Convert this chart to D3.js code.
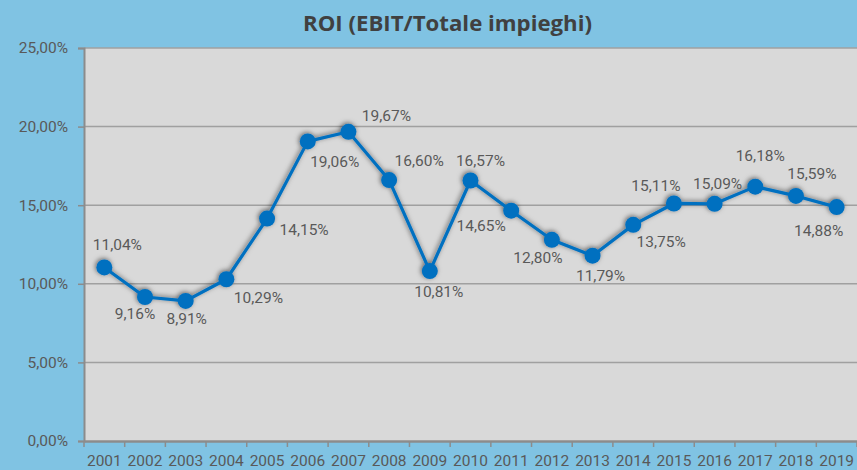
<!DOCTYPE html>
<html>
<head>
<meta charset="utf-8">
<script src="https://cdn.jsdelivr.net/npm/d3@7"></script>
<style>
  html, body { margin: 0; padding: 0; background: #80c3e3; }
  svg { display: block; }
  .tick text { font-family: Roboto, "Noto Sans", sans-serif; }
</style>
</head>
<body>
<svg id="chart" width="857" height="470"></svg>
<script>
// Chart data
const years = ['2001', '2002', '2003', '2004', '2005', '2006', '2007', '2008', '2009', '2010',
  '2011', '2012', '2013', '2014', '2015', '2016', '2017', '2018', '2019'];
const roi = [11.04, 9.16, 8.91, 10.29, 14.15, 19.06, 19.67, 16.60, 10.81, 16.57,
  14.65, 12.80, 11.79, 13.75, 15.11, 15.09, 16.18, 15.59, 14.88];
const yTicks = [0, 5, 10, 15, 20, 25];
const title = 'ROI (EBIT/Totale impieghi)';

// Where each data label sits relative to its point (hand placed, like in the original)
const labelOffset = [
  [13, -22], [-10, 17], [1, 18], [32, 19], [37, 11], [27, 21], [38, -16], [30, -19], [9, 21], [10, -20],
  [-30, 15], [-14, 18], [8, 20], [28, 17], [-18, -17], [3, -20], [5, -31], [16, -22], [-18, 24],
];

const svg = d3.select('#chart');
const width = 857;
const height = 470;
const margin = { top: 48, right: 0, bottom: 29, left: 84 };

const x = d3.scaleBand().domain(years).range([margin.left, width - margin.right]).padding(0);
const y = d3.scaleLinear().domain([0, 25]).range([height - margin.bottom, margin.top]);

const fmt = v => `${d3.format('.2f')(v).replace('.', ',')}%`;

// shadow under the line and markers
const defs = svg.append('defs');
defs.append('filter')
  .attr('id', 'shadow')
  .attr('x', '-20%').attr('y', '-20%').attr('width', '140%').attr('height', '140%')
  .append('feDropShadow')
  .attr('dx', -1).attr('dy', -1)
  .attr('stdDeviation', 2.5)
  .attr('flood-color', '#000')
  .attr('flood-opacity', 0.55);

// background + plot area
svg.append('rect').attr('width', width).attr('height', height).attr('fill', '#80c3e3');
svg.append('rect')
  .attr('x', margin.left).attr('y', margin.top)
  .attr('width', width - margin.left - margin.right)
  .attr('height', y(0) - margin.top)
  .attr('fill', '#d9d9d9');

// title
svg.append('text')
  .attr('x', 447.5).attr('y', 31)
  .attr('text-anchor', 'middle')
  .attr('font-family', '"Open Sans", "DejaVu Sans", sans-serif')
  .attr('font-weight', 'bold')
  .attr('font-size', 21)
  .attr('textLength', 289)
  .attr('lengthAdjust', 'spacingAndGlyphs')
  .attr('fill', '#404040')
  .text(title);

// gridlines
svg.append('g')
  .selectAll('line')
  .data(yTicks.filter(d => d > 0))
  .join('line')
  .attr('x1', margin.left).attr('x2', width)
  .attr('y1', d => y(d)).attr('y2', d => y(d))
  .attr('stroke', '#a0a0a0')
  .attr('stroke-width', 1.5);

// y axis
const yAxis = svg.append('g')
  .attr('transform', `translate(${margin.left},0)`)
  .call(d3.axisLeft(y).tickValues(yTicks).tickFormat(fmt).tickSize(6).tickPadding(10));
yAxis.select('.domain').attr('stroke', '#8c8c8c').attr('stroke-width', 2);
yAxis.selectAll('.tick line').attr('stroke', '#8c8c8c').attr('stroke-width', 1.5);
yAxis.selectAll('.tick text').attr('font-size', 15.5).attr('fill', '#595959');

// x axis: labels in the middle of each band, ticks at the band edges
const xAxis = svg.append('g')
  .attr('transform', `translate(0,${y(0)})`)
  .call(d3.axisBottom(x).tickSize(0).tickPadding(14));
xAxis.select('.domain').attr('stroke', '#8c8c8c').attr('stroke-width', 2.5);
xAxis.selectAll('.tick text').attr('font-size', 15.5).attr('fill', '#595959');
xAxis.selectAll('line.edge')
  .data(years.map(d => x(d)).concat([x(years[years.length - 1]) + x.bandwidth()]))
  .join('line')
  .attr('class', 'edge')
  .attr('x1', d => d).attr('x2', d => d)
  .attr('y1', 0).attr('y2', 6)
  .attr('stroke', '#8c8c8c')
  .attr('stroke-width', 1.5);

// line + markers
const cx = i => x(years[i]) + x.bandwidth() / 2;
const series = svg.append('g').attr('filter', 'url(#shadow)');

series.append('path')
  .datum(roi)
  .attr('fill', 'none')
  .attr('stroke', '#0070c0')
  .attr('stroke-width', 3.2)
  .attr('stroke-linejoin', 'round')
  .attr('d', d3.line().x((d, i) => cx(i)).y(d => y(d)));

series.selectAll('circle')
  .data(roi)
  .join('circle')
  .attr('cx', (d, i) => cx(i))
  .attr('cy', d => y(d))
  .attr('r', 8)
  .attr('fill', '#0070c0');

// data labels
svg.append('g')
  .selectAll('text')
  .data(roi)
  .join('text')
  .attr('x', (d, i) => cx(i) + labelOffset[i][0])
  .attr('y', (d, i) => y(d) + labelOffset[i][1])
  .attr('text-anchor', 'middle')
  .attr('dominant-baseline', 'central')
  .attr('font-family', 'Roboto, "Noto Sans", sans-serif')
  .attr('font-size', 15.5)
  .attr('fill', '#595959')
  .text(d => fmt(d));
</script>
</body>
</html>
